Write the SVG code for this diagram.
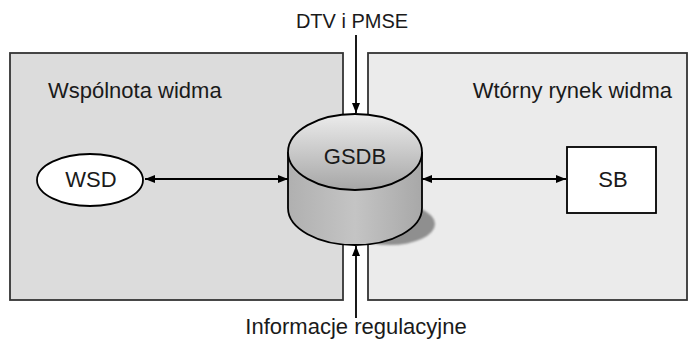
<svg xmlns="http://www.w3.org/2000/svg" width="693" height="342" viewBox="0 0 693 342">
<style>
text{font-family:"Liberation Sans",Arial,sans-serif;fill:#1a1a1a;font-size:22px}
.panel{stroke:#333;stroke-width:1.8}
.conn{stroke:#000;stroke-width:1.8;fill:none}
.node{stroke:#000;stroke-width:1.8}
</style>
<defs>
<marker id="ah" viewBox="0 0 10 8" refX="10" refY="4" markerWidth="10" markerHeight="8" markerUnits="userSpaceOnUse" orient="auto-start-reverse">
<path d="M0,0 L10,4 L0,8 Z" fill="#000"/>
</marker>
<linearGradient id="gtop" x1="0" y1="0" x2="0" y2="1">
<stop offset="0" stop-color="#ececec"/>
<stop offset="1" stop-color="#a6a6a6"/>
</linearGradient>
<linearGradient id="gbody" x1="0" y1="0" x2="1" y2="0">
<stop offset="0" stop-color="#b0b0b0"/>
<stop offset="0.5" stop-color="#c4c4c4"/>
<stop offset="1" stop-color="#a8a8a8"/>
</linearGradient>
<filter id="blur" x="-20%" y="-20%" width="140%" height="140%"><feGaussianBlur stdDeviation="1.2"/></filter>
</defs>
<rect width="693" height="342" fill="#fff"/>
<g id="panel-left">
<rect class="panel" x="10" y="53" width="333" height="247" fill="#dcdcdc"/>
<text x="48" y="98">Wspólnota widma</text>
</g>
<g id="panel-right">
<rect class="panel" x="368" y="53" width="319" height="247" fill="#ebebeb"/>
<text x="672" y="98" text-anchor="end">Wtórny rynek widma</text>
</g>
<g id="label-top"><text x="352" y="28" text-anchor="middle" style="font-size:20px">DTV i PMSE</text></g>
<g id="label-bottom"><text x="356" y="334" text-anchor="middle">Informacje regulacyjne</text></g>
<g id="connectors">
<line class="conn" x1="356" y1="35" x2="356" y2="113" marker-end="url(#ah)"/>
<line class="conn" x1="356" y1="318" x2="356" y2="246" marker-end="url(#ah)"/>
<line class="conn" x1="145" y1="179" x2="288" y2="179" marker-start="url(#ah)" marker-end="url(#ah)"/>
<line class="conn" x1="422" y1="179" x2="566" y2="179" marker-start="url(#ah)" marker-end="url(#ah)"/>
</g>
<g id="gsdb">
<ellipse cx="390" cy="224" rx="45" ry="21" fill="#8f8f8f" filter="url(#blur)"/>
<path class="node" d="M288,152 V208 A67,37 0 0 0 422,208 V152" fill="url(#gbody)"/>
<ellipse class="node" cx="355" cy="152" rx="67" ry="38" fill="url(#gtop)"/>
<text x="355" y="164" text-anchor="middle">GSDB</text>
</g>
<g id="wsd">
<ellipse class="node" cx="90" cy="180" rx="53" ry="26" fill="#fff"/>
<text x="91" y="187" text-anchor="middle">WSD</text>
</g>
<g id="sb">
<rect class="node" x="567" y="147" width="89" height="66" fill="#fff"/>
<text x="613" y="187" text-anchor="middle">SB</text>
</g>
</svg>
